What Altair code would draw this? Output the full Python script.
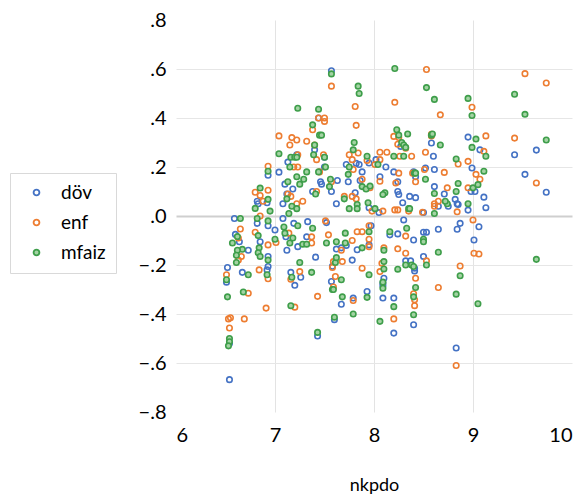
import altair as alt
import pandas as pd

series_names = ["döv", "enf", "mfaiz"]
stroke_colors = ["#4472C4", "#ED7D31", "#3E9E4A"]
fill_colors = ["transparent", "transparent", "#A3D3A3"]

dov_x = [6.59, 6.82, 6.83, 6.93, 6.92, 6.93, 7.04, 7.13, 7.22, 7.10, 7.12, 7.18, 7.08, 7.40, 7.44, 7.50, 7.50,
         7.38, 7.46, 7.47, 7.57, 7.57, 7.63, 7.62, 7.72, 7.85, 7.82, 7.88, 7.74, 7.86, 7.81, 7.95, 7.95, 8.02,
         8.12, 8.20, 8.24, 8.24, 8.06, 8.25, 8.29, 8.05, 8.27, 8.58, 8.60, 8.40, 8.42, 8.52, 8.61, 8.61, 8.36,
         8.42, 8.50, 8.95, 9.07, 8.99, 8.71, 8.82, 9.02, 8.98, 8.84, 8.85, 8.95, 9.11, 9.13, 8.75, 8.65, 9.42,
         9.525, 9.64, 9.74,
         6.60, 6.64, 6.73, 6.52, 6.51, 6.67, 6.54, 6.54, 6.82, 6.85, 6.92, 6.93, 6.93, 7.00, 7.08, 7.11, 7.12,
         7.16, 7.20, 7.19, 7.23, 7.26, 7.32, 7.33, 7.41, 7.43, 7.52, 7.58, 7.57, 7.60, 7.62, 7.67, 7.67, 7.72,
         7.78, 7.79, 7.83, 7.93, 7.95, 7.97, 8.09, 8.09, 8.09, 8.10, 8.16, 8.24, 8.20, 8.20, 8.32, 8.37, 8.30,
         8.40, 8.41, 8.41, 8.40, 8.50, 8.53, 8.50, 8.65, 8.83, 8.84, 8.87, 9.01, 9.06]
dov_y = [-0.01, 0.06, 0.05, 0.166, 0.054, -0.04, 0.179, 0.22, 0.25, 0.13, 0.09, 0.11, 0.05, 0.27, 0.40, 0.24, 0.20,
         0.10, 0.14, 0.13, 0.593, 0.10, 0.145, 0.05, 0.21, 0.21, 0.215, 0.18, 0.14, 0.145, 0.095, 0.216, 0.034, 0.23,
         0.20, 0.18, 0.14, 0.10, 0.16, 0.088, 0.054, 0.014, 0.284, 0.298, 0.244, 0.18, 0.16, 0.196, 0.19, 0.12, 0.08,
         0.075, 0.014, 0.322, 0.27, 0.196, 0.09, 0.068, 0.10, 0.10, 0.05, 0.047, 0.024, 0.077, 0.034, 0.04, 0.04, 0.25,
         0.17, 0.269, 0.097,
         -0.075, -0.105, -0.14, -0.21, -0.27, -0.23, -0.52, -0.668, -0.03, -0.105, -0.22, -0.206, -0.165, -0.057,
         -0.01, -0.085, -0.14, -0.23, -0.283, -0.03, -0.125, -0.25, -0.085, -0.023, -0.168, -0.49, -0.027, -0.205,
         -0.267, -0.423, -0.135, -0.13, -0.36, -0.12, -0.18, -0.335, -0.138, -0.308, -0.118, -0.04, -0.274, -0.285,
         -0.335, -0.254, -0.077, -0.073, -0.335, -0.478, -0.183, -0.183, -0.016, -0.098, -0.213, -0.224, -0.444,
         -0.066, -0.066, -0.165, -0.054, -0.539, -0.054, -0.03, -0.098, -0.044]

enf_x = [6.80, 6.85, 6.93, 6.93, 6.88, 6.85, 7.04, 7.15, 7.17, 7.22, 7.23, 7.19, 7.23, 7.13, 7.16, 7.22, 7.28,
         7.32, 7.38, 7.44, 7.50, 7.50, 7.40, 7.42, 7.49, 7.45, 7.42, 7.57, 7.57, 7.81, 7.82, 7.84, 7.75, 7.78,
         7.79, 7.88, 7.70, 7.78, 7.82, 7.93, 7.96, 7.98, 8.21, 8.20, 8.25, 8.32, 8.24, 8.26, 8.38, 8.06, 8.13,
         8.01, 8.06, 8.25, 8.22, 8.06, 8.09, 8.21, 8.24, 8.35, 8.53, 8.67, 8.58, 8.58, 8.52, 8.39, 8.42, 8.51,
         8.71, 8.61, 8.61, 8.49, 8.65, 8.99, 9.13, 9.11, 8.85, 8.95, 9.03, 9.07, 8.74, 8.95, 8.84, 9.42, 9.525,
         9.64, 9.74,
         6.65, 6.63, 6.66, 6.63, 6.51, 6.73, 6.53, 6.55, 6.54, 6.69, 6.80, 6.84, 6.91, 6.93, 6.93, 7.01, 7.14,
         7.16, 7.20, 7.25, 7.37, 7.37, 7.43, 7.54, 7.51, 7.59, 7.58, 7.61, 7.59, 7.67, 7.68, 7.78, 7.79, 7.83,
         7.88, 7.88, 7.95, 7.95, 7.95, 8.06, 8.08, 8.10, 8.24, 8.20, 8.32, 8.32, 8.42, 8.40, 8.41, 8.41, 8.53,
         8.65, 8.83, 8.87, 9.01, 9.06, 9.00]
enf_y = [0.097, 0.084, 0.203, 0.105, 0.06, 0.00, 0.327, 0.29, 0.32, 0.31, 0.25, 0.20, 0.20, 0.09, 0.08, 0.05, 0.06,
         0.305, 0.352, 0.40, 0.40, 0.386, 0.29, 0.23, 0.25, 0.18, 0.10, 0.53, 0.14, 0.447, 0.37, 0.257, 0.25, 0.23,
         0.19, 0.15, 0.08, 0.08, 0.07, 0.227, 0.115, 0.02, 0.464, 0.325, 0.32, 0.277, 0.293, 0.244, 0.244, 0.26, 0.26,
         0.21, 0.23, 0.175, 0.135, 0.142, 0.02, 0.025, 0.025, 0.02, 0.598, 0.413, 0.334, 0.327, 0.26, 0.175, 0.14, 0.19,
         0.178, 0.05, 0.04, 0.015, 0.06, 0.444, 0.327, 0.264, 0.212, 0.223, 0.17, 0.15, 0.115, 0.115, 0.017, 0.318, 0.581,
         0.135, 0.543,
         -0.053, -0.09, -0.165, -0.18, -0.24, -0.315, -0.42, -0.415, -0.457, -0.42, -0.066, -0.22, -0.376, -0.256,
         -0.118, -0.108, -0.07, -0.258, -0.372, -0.227, -0.085, -0.11, -0.328, -0.077, -0.02, -0.186, -0.21, -0.247,
         -0.29, -0.14, -0.186, -0.10, -0.345, -0.064, -0.064, -0.213, -0.125, -0.095, -0.04, -0.227, -0.193, -0.13,
         -0.134, -0.42, -0.152, -0.082, -0.254, -0.317, -0.342, -0.366, -0.183, -0.292, -0.61, -0.204, -0.152, -0.155,
         -0.016]

mfaiz_x = [6.65, 6.80, 6.85, 6.93, 6.93, 6.95, 6.82, 7.04, 7.23, 7.16, 7.20, 7.22, 7.15, 7.13, 7.22, 7.25, 7.29,
           7.12, 7.17, 7.14, 7.22, 7.32, 7.38, 7.44, 7.45, 7.47, 7.40, 7.39, 7.50, 7.51, 7.44, 7.41, 7.57, 7.56,
           7.55, 7.70, 7.84, 7.85, 7.80, 7.79, 7.75, 7.74, 7.88, 7.92, 7.83, 7.93, 7.96, 7.94, 7.75, 7.83, 8.21,
           8.23, 8.25, 8.28, 8.34, 8.30, 8.32, 8.20, 8.30, 8.04, 8.11, 8.09, 8.01, 8.35, 8.53, 8.61, 8.58, 8.59,
           8.67, 8.41, 8.42, 8.52, 8.61, 8.61, 8.36, 8.95, 8.99, 9.03, 8.99, 9.13, 8.83, 9.11, 8.85, 8.83, 9.00,
           9.05, 8.95, 8.74, 8.72, 9.42, 9.525, 9.64, 9.74,
           6.62, 6.57, 6.67, 6.62, 6.61, 6.61, 6.51, 6.52, 6.73, 6.68, 6.54, 6.54, 6.53, 6.83, 6.84, 6.83, 6.85,
           6.92, 6.93, 6.93, 7.00, 7.09, 7.10, 7.15, 7.18, 7.17, 7.16, 7.23, 7.25, 7.28, 7.32, 7.37, 7.43, 7.38,
           7.52, 7.58, 7.59, 7.60, 7.61, 7.62, 7.62, 7.67, 7.68, 7.71, 7.71, 7.79, 7.88, 7.93, 7.95, 7.95, 8.06,
           8.09, 8.09, 8.10, 8.10, 8.10, 8.16, 8.24, 8.20, 8.32, 8.38, 8.33, 8.40, 8.42, 8.40, 8.40, 8.50, 8.50,
           8.53, 8.65, 8.83, 8.87, 9.05]
mfaiz_y = [-0.01, 0.031, 0.114, 0.183, 0.068, 0.02, -0.01, 0.254, 0.44, 0.24, 0.24, 0.24, 0.20, 0.14, 0.16, 0.13, 0.15,
           0.07, 0.04, 0.01, 0.03, 0.18, 0.372, 0.436, 0.33, 0.33, 0.29, 0.25, 0.24, 0.20, 0.18, 0.09, 0.58, 0.15,
           0.12, 0.07, 0.53, 0.50, 0.30, 0.27, 0.20, 0.17, 0.12, 0.11, 0.047, 0.244, 0.122, 0.054, 0.03, 0.03, 0.602,
           0.352, 0.33, 0.30, 0.335, 0.29, 0.28, 0.244, 0.244, 0.21, 0.095, 0.088, 0.03, 0.03, 0.524, 0.476, 0.33, 0.335,
           0.29, 0.175, 0.175, 0.15, 0.092, 0.01, 0.03, 0.48, 0.41, 0.314, 0.28, 0.244, 0.233, 0.183, 0.133, 0.10, 0.115,
           0.128, 0.05, 0.05, 0.06, 0.497, 0.415, -0.177, 0.31,
           -0.084, -0.11, -0.136, -0.14, -0.16, -0.19, -0.26, -0.33, -0.24, -0.31, -0.50, -0.513, -0.53, -0.08, -0.13,
           -0.15, -0.165, -0.24, -0.18, -0.02, -0.095, -0.045, -0.07, -0.11, -0.09, -0.25, -0.366, -0.04, -0.19, -0.115,
           -0.115, -0.23, -0.475, -0.05, -0.11, -0.30, -0.30, -0.413, -0.19, -0.17, -0.105, -0.26, -0.33, -0.07, -0.11,
           -0.40, -0.13, -0.332, -0.24, -0.064, -0.43, -0.27, -0.295, -0.186, -0.14, -0.216, -0.064, -0.217, -0.37,
           -0.20, -0.20, -0.05, -0.206, -0.292, -0.33, -0.403, -0.095, -0.105, -0.20, -0.148, -0.319, -0.244, -0.358]

x_ticks = [6, 7, 8, 9, 10]
y_ticks = [-0.8, -0.6, -0.4, -0.2, 0.0, 0.2, 0.4, 0.6, 0.8]

frames = []
for name, xs, ys in [("döv", dov_x, dov_y), ("enf", enf_x, enf_y), ("mfaiz", mfaiz_x, mfaiz_y)]:
    frames.append(pd.DataFrame({"nkpdo": xs, "value": ys, "series": name}))
df = pd.concat(frames, ignore_index=True)
df["order"] = df["series"].map({n: i for i, n in enumerate(series_names)})

FONT = "Lato"

x_axis = alt.Axis(
    values=x_ticks, title="nkpdo", domain=False, ticks=False,
    labelFontSize=20, labelColor="#000000", labelPadding=13, labelFont=FONT,
    titleFontSize=18, titleFontWeight="normal", titleColor="#000000", titlePadding=31, titleFont=FONT,
    gridColor={"condition": {"test": "datum.value === 6 || datum.value === 10", "value": "rgba(0,0,0,0)"},
               "value": "#e3e3e3"},
)
y_axis = alt.Axis(
    values=y_ticks, title=None, domain=False, ticks=False,
    labelFontSize=20, labelColor="#000000", labelPadding=10, labelFont=FONT,
    labelExpr="replace(format(datum.value, '.1f'), '0.', '.')",
    gridColor={"condition": [{"test": "abs(datum.value) < 0.01", "value": "#cfcfcf"},
                             {"test": "abs(datum.value) > 0.79", "value": "rgba(0,0,0,0)"}],
               "value": "#e6e6e6"},
    gridWidth={"condition": {"test": "abs(datum.value) < 0.01", "value": 2}, "value": 1},
)

legend = alt.Legend(
    title=None, orient="none", legendX=-166, legendY=153,
    labelFontSize=19, labelFont=FONT, labelColor="#000000",
    symbolSize=34, symbolStrokeWidth=1.8, rowPadding=10, labelOffset=15,
    padding=10, strokeColor="#d9d9d9", fillColor="#ffffff",
    symbolOffset=7, labelLimit=200,
)

chart = alt.Chart(df).mark_point(shape="circle", filled=False, opacity=1, strokeWidth=1.6, size=30).encode(
    x=alt.X("nkpdo:Q", scale=alt.Scale(domain=[6, 10], nice=False, zero=False), axis=x_axis),
    y=alt.Y("value:Q", scale=alt.Scale(domain=[-0.8, 0.8], nice=False), axis=y_axis),
    stroke=alt.Stroke("series:N", scale=alt.Scale(domain=series_names, range=stroke_colors), legend=legend),
    fill=alt.Fill("series:N", scale=alt.Scale(domain=series_names, range=fill_colors), legend=legend),
    order=alt.Order("order:Q"),
).properties(
    width=396, height=392,
    autosize=alt.AutoSizeParams(type="none"),
    padding={"left": 168, "top": 12, "right": 6, "bottom": 84},
    background="#ffffff",
).configure_view(stroke=None)

chart.save("out.html", embed_options={"renderer": "svg", "actions": False})
